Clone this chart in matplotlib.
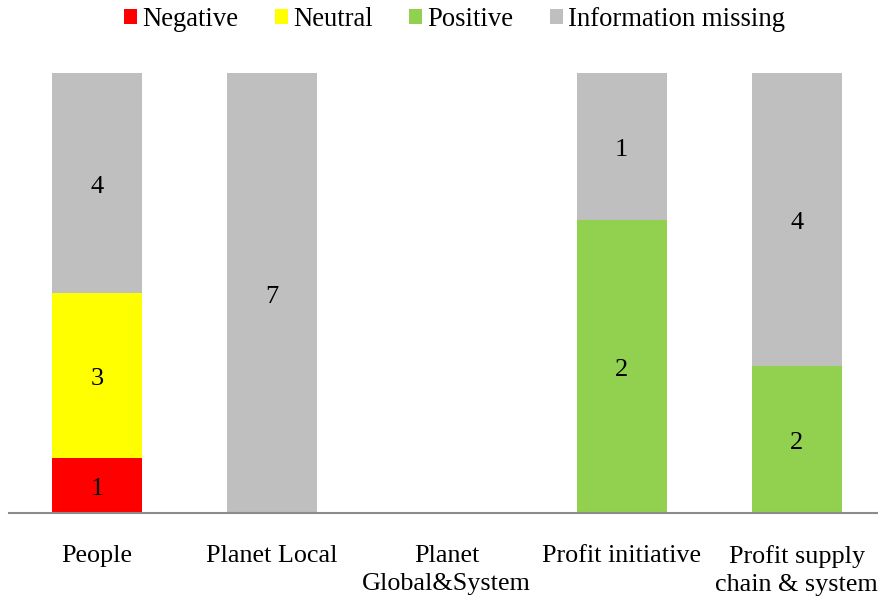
import numpy as np
import matplotlib.pyplot as plt

plt.rcParams['font.family'] = ['Liberation Serif', 'DejaVu Serif']

categories = ['People', 'Planet Local', 'Planet\nGlobal&System',
              'Profit initiative', 'Profit supply\nchain & system']
negative = np.array([1, 0, 0, 0, 0])
neutral = np.array([3, 0, 0, 0, 0])
positive = np.array([0, 0, 0, 2, 2])
missing = np.array([4, 7, 0, 1, 4])

series = [('Negative', negative, '#FF0000'),
          ('Neutral', neutral, '#FFFF00'),
          ('Positive', positive, '#92D050'),
          ('Information missing', missing, '#BFBFBF')]

totals = negative + neutral + positive + missing
safe = np.where(totals == 0, 1, totals)

fig = plt.figure(figsize=(8.79, 6.03), dpi=100)
ax = fig.add_axes([0.0108, 0.149, 0.9892, 0.73])

x = np.arange(len(categories))
bottom = np.zeros(len(categories))
for name, vals, color in series:
    share = vals / safe
    ax.bar(x, share, 0.514, bottom=bottom, color=color, label=name)
    for i in range(len(x)):
        if vals[i] > 0:
            ax.text(x[i], bottom[i] + share[i] / 2 - 0.008, str(vals[i]),
                    ha='center', va='center', fontsize=19)
    bottom += share

ax.set_xlim(-0.5, 4.471)
ax.set_ylim(0, 1)
ax.set_yticks([])
for s in ['top', 'right', 'left']:
    ax.spines[s].set_visible(False)
ax.spines['bottom'].set_color('#8C8C8C')
ax.spines['bottom'].set_linewidth(1.5)
ax.set_xticks(x)
ax.set_xticklabels(categories, fontsize=18.8, linespacing=1.35)
ax.tick_params(axis='x', length=0, pad=23)

ax.legend(loc='upper center', bbox_to_anchor=(0.512, 1.205), ncol=4,
          frameon=False, fontsize=19.2, handlelength=0.5, handleheight=0.5,
          handletextpad=0.2, columnspacing=1.35)

fig.savefig('out.png', dpi=100)
